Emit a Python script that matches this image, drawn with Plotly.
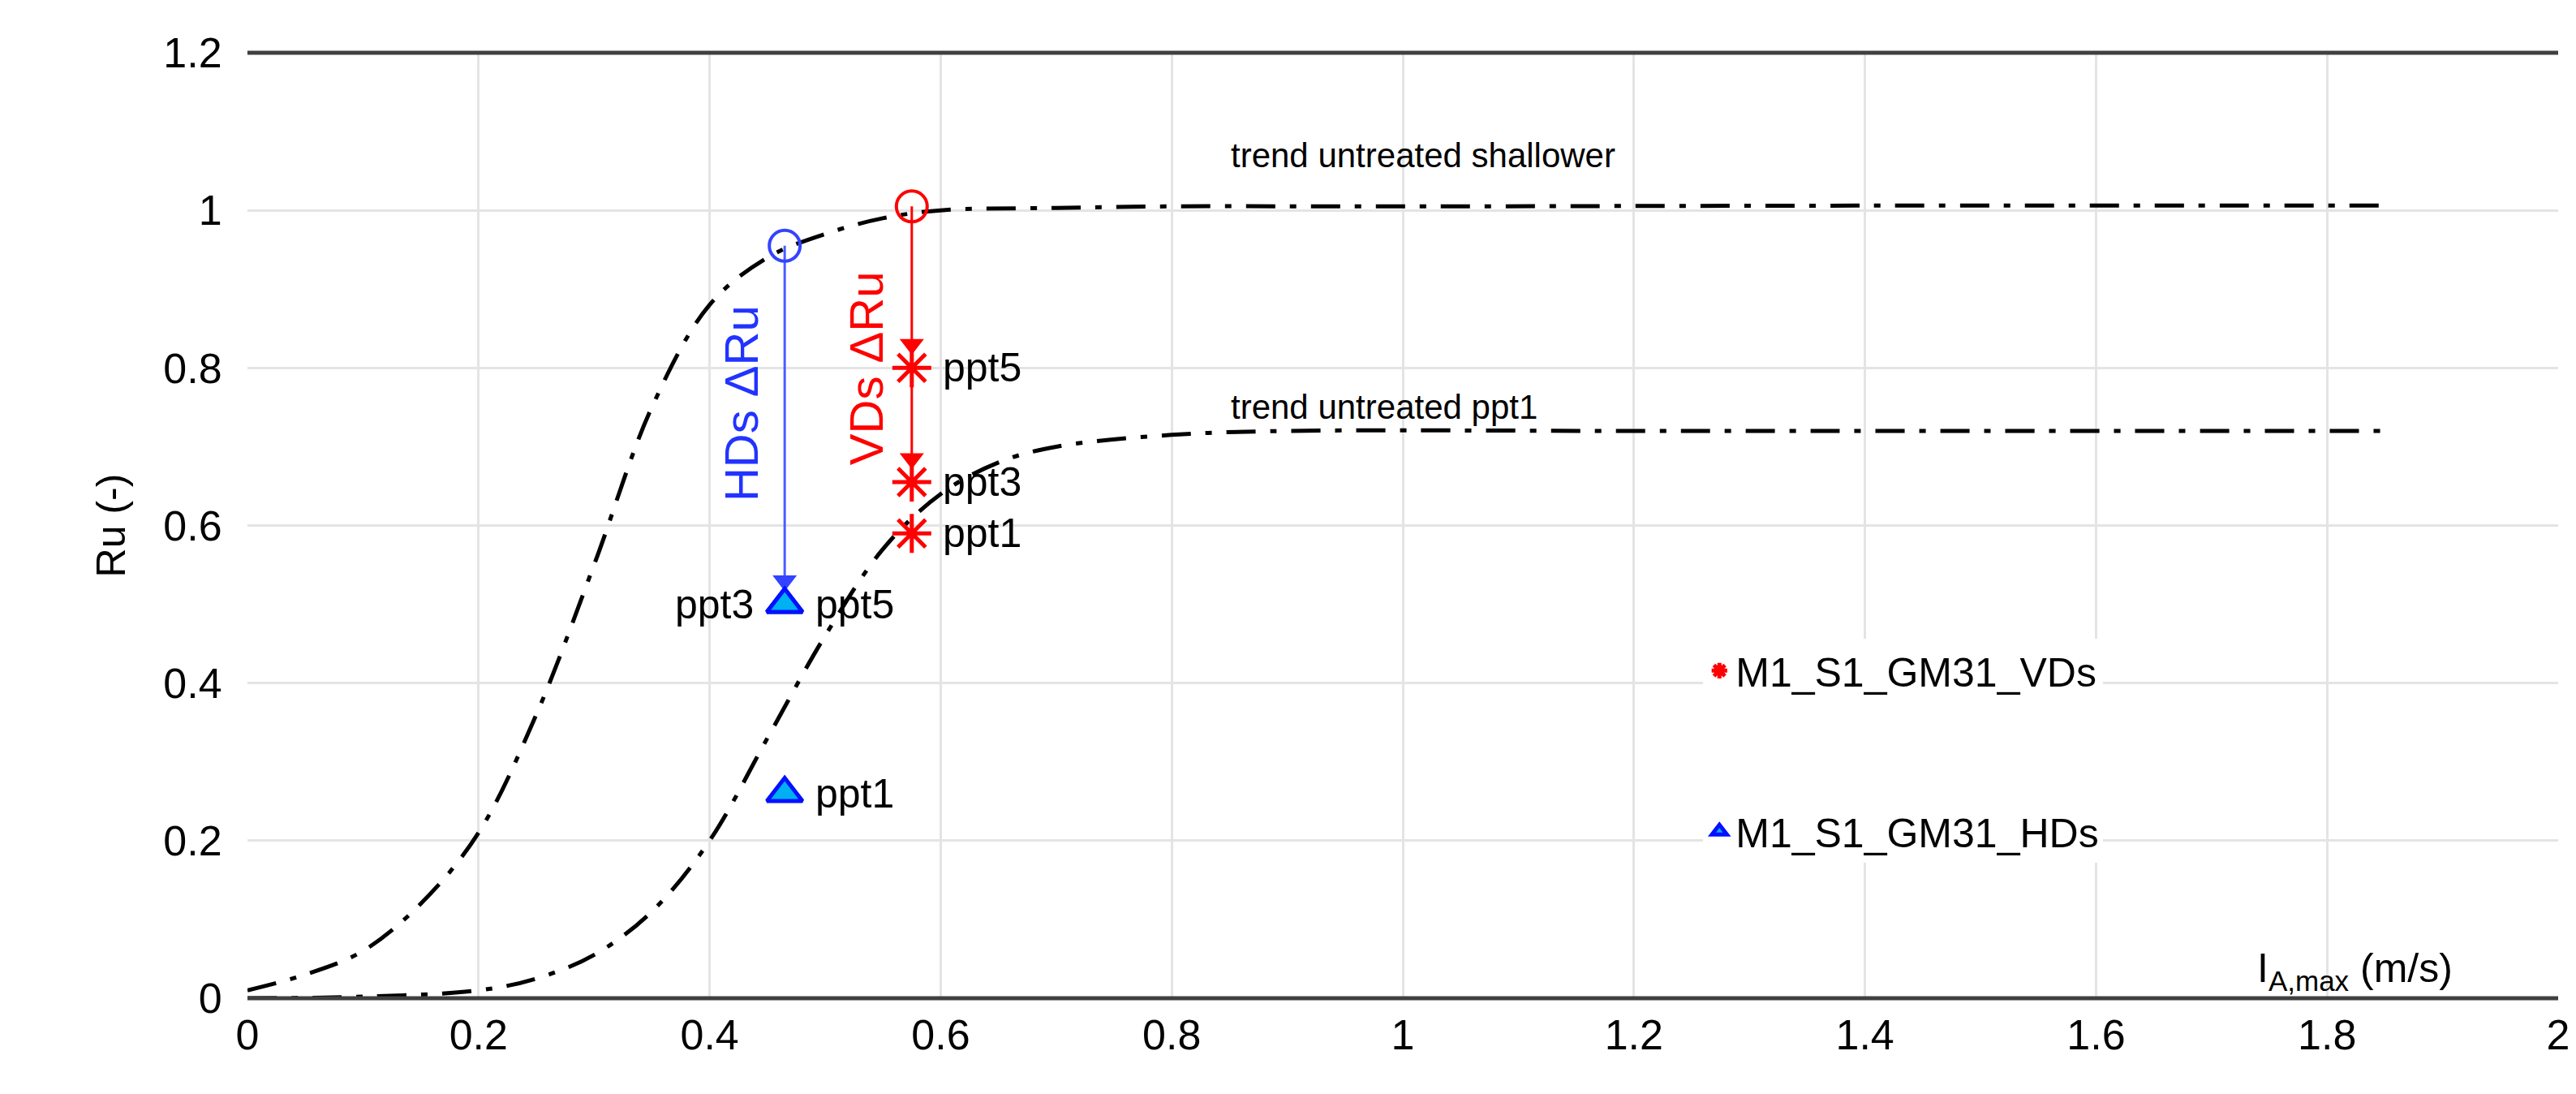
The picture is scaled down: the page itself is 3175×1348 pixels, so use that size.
import plotly.graph_objects as go

# trend curves
shallow_x = [0.0, 0.05, 0.1, 0.15, 0.2, 0.25, 0.3, 0.35, 0.4, 0.45, 0.5, 0.55, 0.6, 0.7, 0.8, 1.0, 1.4, 1.85]
shallow_y = [0.01, 0.03, 0.06, 0.12, 0.21, 0.36, 0.55, 0.75, 0.88, 0.94, 0.97, 0.99, 1.0, 1.003, 1.005, 1.005, 1.006, 1.006]
ppt1_x = [0.0, 0.1, 0.2, 0.25, 0.3, 0.35, 0.4, 0.45, 0.5, 0.55, 0.6, 0.65, 0.7, 0.8, 0.9, 1.2, 1.5, 1.85]
ppt1_y = [0.0, 0.002, 0.01, 0.025, 0.055, 0.11, 0.2, 0.33, 0.46, 0.57, 0.64, 0.68, 0.70, 0.715, 0.72, 0.72, 0.72, 0.72]

# HDs points
hds_x = 0.465
hds_start = 0.955
hds_vals = [0.26, 0.5, 0.5]
hds_labels = ["ppt1", "ppt3", "ppt5"]

# VDs points
vds_x = 0.575
vds_start = 1.005
vds_vals = [0.59, 0.655, 0.80]
vds_labels = ["ppt1", "ppt3", "ppt5"]

FONT = "Liberation Sans, Arial, sans-serif"
NARROW = "Liberation Sans Narrow, Liberation Sans, sans-serif"
DASH = "36px,18px,8px,18px"

fig = go.Figure()
fig.add_trace(go.Scatter(x=shallow_x, y=shallow_y, mode="lines", line=dict(color="black", width=5, dash=DASH, shape="spline"), showlegend=False))
fig.add_trace(go.Scatter(x=ppt1_x, y=ppt1_y, mode="lines", line=dict(color="black", width=5, dash=DASH, shape="spline"), showlegend=False))

# vertical Delta lines
fig.add_trace(go.Scatter(x=[hds_x, hds_x], y=[hds_start, max(hds_vals)], mode="lines", line=dict(color="#4a5cff", width=3), showlegend=False))
fig.add_trace(go.Scatter(x=[vds_x, vds_x], y=[vds_start, min(vds_vals[1:])], mode="lines", line=dict(color="red", width=3), showlegend=False))

# start circles
fig.add_trace(go.Scatter(x=[hds_x], y=[hds_start], mode="markers", marker=dict(symbol="circle-open", size=38, color="#3344ff", line=dict(width=4)), showlegend=False))
fig.add_trace(go.Scatter(x=[vds_x], y=[vds_start], mode="markers", marker=dict(symbol="circle-open", size=38, color="red", line=dict(width=4)), showlegend=False))

# arrow heads
fig.add_trace(go.Scatter(x=[hds_x], y=[max(hds_vals) + 0.03], mode="markers", marker=dict(symbol="triangle-down", size=26, color="#3344ff"), showlegend=False))
fig.add_trace(go.Scatter(x=[vds_x] * 2, y=[vds_vals[2] + 0.03, vds_vals[1] + 0.03], mode="markers", marker=dict(symbol="triangle-down", size=26, color="red"), showlegend=False))

fig.add_trace(go.Scatter(x=[vds_x] * len(vds_vals), y=vds_vals, mode="markers", name="M1_S1_GM31_VDs",
                         marker=dict(symbol="asterisk-open", size=40, color="red", line=dict(width=5, color="red")), legendgroup="a"))
fig.add_trace(go.Scatter(x=[hds_x] * len(hds_vals), y=hds_vals, mode="markers", name="M1_S1_GM31_HDs",
                         marker=dict(symbol="triangle-up", size=38, color="#00b0f0", line=dict(width=5, color="#0010ff")), legendgroup="b"))

# point labels
for v, t in zip(vds_vals, vds_labels):
    fig.add_annotation(x=vds_x, y=v, text=t, showarrow=False, xanchor="left", xshift=36, font=dict(size=50, family=FONT, color="black"))
for v, t in zip(hds_vals, hds_labels):
    left = t == "ppt3"
    fig.add_annotation(x=hds_x, y=v, text=t, showarrow=False, xanchor="right" if left else "left",
                       xshift=-36 if left else 36, font=dict(size=50, family=FONT, color="black"))

fig.add_annotation(x=0.427, y=0.755, text="HDs ΔRu", textangle=-90, showarrow=False, font=dict(size=58, family=FONT, color="#2233ff"))
fig.add_annotation(x=0.535, y=0.80, text="VDs ΔRu", textangle=-90, showarrow=False, font=dict(size=58, family=FONT, color="red"))
fig.add_annotation(x=0.85, y=1.07, text="trend untreated shallower", showarrow=False, xanchor="left", font=dict(size=42, family=NARROW, color="black"))
fig.add_annotation(x=0.85, y=0.75, text="trend untreated ppt1", showarrow=False, xanchor="left", font=dict(size=42, family=NARROW, color="black"))
fig.add_annotation(x=1.91, y=0.0, text="I<sub>A,max</sub> (m/s)", showarrow=False, xanchor="right", yanchor="bottom", font=dict(size=50, family=FONT, color="black"))

fig.update_layout(
    width=3175, height=1348,
    paper_bgcolor="white", plot_bgcolor="white",
    margin=dict(l=297, r=30, t=57, b=126),
    font=dict(family=FONT, size=50, color="black"),
    legend=dict(x=0.63, y=0.38, xanchor="left", yanchor="top", bgcolor="white", tracegroupgap=130,
                font=dict(size=50, family=FONT), itemwidth=30),
    xaxis=dict(range=[0, 2], dtick=0.2, showgrid=True, gridcolor="#e4e4e4", gridwidth=3, zeroline=False,
               showline=True, linecolor="#d9d9d9", mirror=True, ticks="", ticklen=18, tickcolor="white", tickfont=dict(size=52)),
    yaxis=dict(range=[0, 1.2], dtick=0.2, showgrid=True, gridcolor="#e4e4e4", gridwidth=3, zeroline=False,
               showline=False, ticks="outside", ticklen=20, tickcolor="white", tickfont=dict(size=52),
               title=dict(text="Ru (-)", font=dict(size=50), standoff=30)),
)
fig.add_shape(type="line", xref="paper", yref="paper", x0=0, x1=1, y0=1, y1=1, line=dict(color="#404040", width=5))
fig.add_shape(type="line", xref="paper", yref="paper", x0=0, x1=1, y0=0, y1=0, line=dict(color="#404040", width=5))

fig.write_html("out.html")
